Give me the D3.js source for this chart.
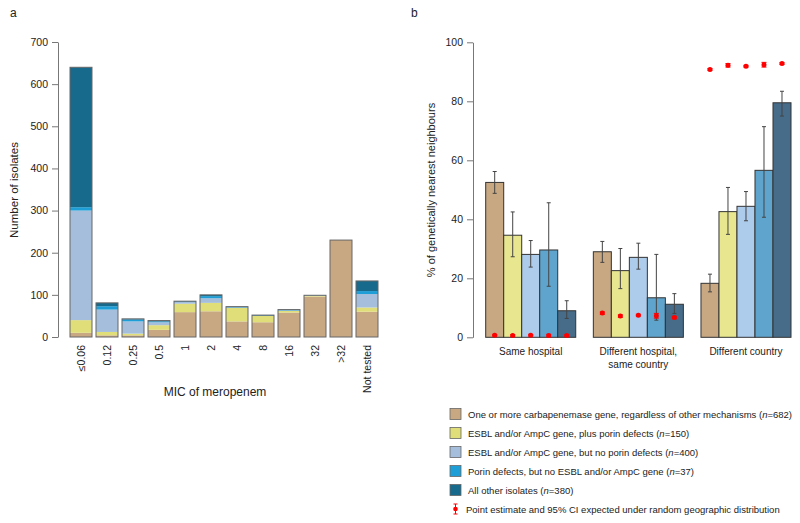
<!DOCTYPE html>
<html>
<head>
<meta charset="utf-8">
<script src="https://cdn.jsdelivr.net/npm/d3@7"></script>
<style>
  body { margin: 0; background: #fff; }
  svg text { font-family: "Liberation Sans", Arial, sans-serif; fill: #222; }
</style>
</head>
<body>
<div id="chart"></div>
<script>
// Panel a: MIC of meropenem, stacked counts per mechanism group
const micCats = ['≤0.06', '0.12', '0.25', '0.5', '1', '2', '4', '8', '16', '32', '>32', 'Not tested']
const carbapenemase = [10, 4, 4, 17, 59, 61, 37, 35, 58, 96, 230, 60]
const esblPorin = [30, 8, 4, 11, 20, 20, 32, 15, 4, 2, 0, 10]
const esblNoPorin = [260, 53, 29, 7, 4, 11, 1, 0, 1, 0, 0, 32]
const porinOnly = [8, 8, 5, 2, 1, 5, 1, 1, 1, 1, 0, 7]
const otherIsolates = [332, 8, 1, 2, 1, 3, 1, 1, 1, 0, 0, 24]
const countTicks = [0, 100, 200, 300, 400, 500, 600, 700]

// Panel b: % of genetically nearest neighbours, rows = mechanism group, cols = location
const locations = [['Same hospital'], ['Different hospital,', 'same country'], ['Different country']]
const nnPct = [
  [52.5, 29.0, 18.3],
  [34.6, 22.6, 42.6],
  [28.1, 27.1, 44.4],
  [29.6, 13.4, 56.6],
  [9.0, 11.2, 79.5],
]
const nnLow = [
  [48.8, 25.4, 15.4],
  [27.3, 16.5, 34.9],
  [23.8, 23.1, 39.5],
  [17.3, 5.8, 40.7],
  [6.4, 8.1, 75.0],
]
const nnHigh = [
  [56.2, 32.5, 21.4],
  [42.5, 30.1, 50.8],
  [32.8, 31.9, 49.4],
  [45.6, 28.1, 71.4],
  [12.4, 14.8, 83.4],
]
const expPct = [
  [0.7, 8.2, 90.8],
  [0.6, 7.2, 92.2],
  [0.7, 7.5, 91.9],
  [0.6, 7.3, 92.4],
  [0.6, 6.7, 92.8],
]
const expLow = [
  [0.4, 7.8, 90.5],
  [0.3, 6.8, 91.6],
  [0.4, 7.2, 91.6],
  [0.2, 6.5, 91.6],
  [0.3, 6.3, 92.5],
]
const expHigh = [
  [1.0, 8.6, 91.1],
  [0.9, 7.6, 92.8],
  [1.0, 7.8, 92.2],
  [1.0, 8.1, 93.2],
  [0.9, 7.1, 93.1],
]
const pctTicks = [0, 20, 40, 60, 80, 100]

const groupNames = [
  ['One or more carbapenemase gene, regardless of other mechanisms (', '=682)'],
  ['ESBL and/or AmpC gene, plus porin defects (', '=150)'],
  ['ESBL and/or AmpC gene, but no porin defects (', '=400)'],
  ['Porin defects, but no ESBL and/or AmpC gene (', '=37)'],
  ['All other isolates (', '=380)'],
]
const colorsA = ['#c8a882', '#e0de78', '#a4bedb', '#1e9ed6', '#176a8c']
const colorsB = ['#c8a882', '#e8e68e', '#adcbea', '#5fa4cd', '#466c8a']

const svg = d3.select('#chart').append('svg')
  .attr('width', 800)
  .attr('height', 523)

// ---------- panel a ----------
svg.append('text').attr('x', 10).attr('y', 17).style('font-size', '12px').text('a')

const xA = d3.scaleBand().domain(micCats).range([68, 380]).paddingInner(0.154).paddingOuter(0.077)
const yA = d3.scaleLinear().domain([0, 700]).range([337, 42])

const tableA = micCats.map((c, i) => ({
  cat: c, s0: carbapenemase[i], s1: esblPorin[i], s2: esblNoPorin[i], s3: porinOnly[i], s4: otherIsolates[i],
}))
const stackA = d3.stack().keys(['s0', 's1', 's2', 's3', 's4'])(tableA)

const gA = svg.append('g')
stackA.forEach((layer, k) => {
  gA.selectAll('rect.l' + k)
    .data(layer)
    .enter()
    .append('rect')
      .attr('x', (d) => xA(d.data.cat))
      .attr('width', xA.bandwidth())
      .attr('y', (d) => yA(d[1]))
      .attr('height', (d) => yA(d[0]) - yA(d[1]))
      .attr('fill', colorsA[k])
})
// outline of each whole bar
gA.selectAll('rect.outline')
  .data(tableA)
  .enter()
  .append('rect')
    .attr('x', (d) => xA(d.cat))
    .attr('width', xA.bandwidth())
    .attr('y', (d) => yA(d.s0 + d.s1 + d.s2 + d.s3 + d.s4))
    .attr('height', (d) => yA(0) - yA(d.s0 + d.s1 + d.s2 + d.s3 + d.s4))
    .attr('fill', 'none')
    .attr('stroke', '#666')
    .attr('stroke-width', 1)

const axA = svg.append('g')
  .attr('transform', 'translate(58,0)')
  .call(d3.axisLeft(yA).tickValues(countTicks).tickSize(6).tickSizeOuter(0).tickPadding(4))
axA.selectAll('path, line').attr('stroke', '#777')
axA.selectAll('text').style('font-size', '10.5px').attr('fill', '#222')

svg.append('g').selectAll('text')
  .data(micCats)
  .enter()
  .append('text')
    .attr('transform', (d) => `translate(${xA(d) + xA.bandwidth() / 2 + 3.5},345) rotate(-90)`)
    .attr('text-anchor', 'end')
    .style('font-size', '10.5px')
    .text((d) => d)

svg.append('text')
  .attr('x', 215).attr('y', 396)
  .attr('text-anchor', 'middle')
  .style('font-size', '12px')
  .text('MIC of meropenem')

svg.append('text')
  .attr('transform', 'translate(18,190) rotate(-90)')
  .attr('text-anchor', 'middle')
  .style('font-size', '11.5px')
  .text('Number of isolates')

// ---------- panel b ----------
svg.append('text').attr('x', 411).attr('y', 17).style('font-size', '12px').text('b')

const locIdx = d3.range(locations.length)
const serIdx = d3.range(nnPct.length)
const xB = d3.scaleBand().domain(locIdx).range([485.7, 791]).paddingInner(0.1636).paddingOuter(0)
const xBar = d3.scaleBand().domain(serIdx).range([0, xB.bandwidth()]).padding(0)
const yB = d3.scaleLinear().domain([0, 100]).range([337.3, 42.3])

const cellsB = []
serIdx.forEach((s) => locIdx.forEach((l) => {
  cellsB.push({
    s: s, l: l,
    v: nnPct[s][l], lo: nnLow[s][l], hi: nnHigh[s][l],
    e: expPct[s][l], elo: expLow[s][l], ehi: expHigh[s][l],
  })
}))
const cx = (d) => xB(d.l) + xBar(d.s) + xBar.bandwidth() / 2

const gB = svg.append('g')
gB.selectAll('rect.bar')
  .data(cellsB)
  .enter()
  .append('rect')
    .attr('x', (d) => xB(d.l) + xBar(d.s))
    .attr('width', xBar.bandwidth())
    .attr('y', (d) => yB(d.v))
    .attr('height', (d) => yB(0) - yB(d.v))
    .attr('fill', (d) => colorsB[d.s])
    .attr('stroke', '#333')
    .attr('stroke-width', 1)

// CI of observed
const ci = gB.selectAll('g.ci').data(cellsB).enter().append('g').attr('stroke', '#444').attr('stroke-width', 1)
ci.append('line').attr('x1', cx).attr('x2', cx).attr('y1', (d) => yB(d.lo)).attr('y2', (d) => yB(d.hi))
ci.append('line').attr('x1', (d) => cx(d) - 2).attr('x2', (d) => cx(d) + 2).attr('y1', (d) => yB(d.lo)).attr('y2', (d) => yB(d.lo))
ci.append('line').attr('x1', (d) => cx(d) - 2).attr('x2', (d) => cx(d) + 2).attr('y1', (d) => yB(d.hi)).attr('y2', (d) => yB(d.hi))

// expected under random geographic distribution
const ex = gB.selectAll('g.ex').data(cellsB).enter().append('g').attr('stroke', '#ff0000').attr('stroke-width', 1)
ex.append('line').attr('x1', cx).attr('x2', cx).attr('y1', (d) => yB(d.elo)).attr('y2', (d) => yB(d.ehi))
ex.append('line').attr('x1', (d) => cx(d) - 2.5).attr('x2', (d) => cx(d) + 2.5).attr('y1', (d) => yB(d.elo)).attr('y2', (d) => yB(d.elo))
ex.append('line').attr('x1', (d) => cx(d) - 2.5).attr('x2', (d) => cx(d) + 2.5).attr('y1', (d) => yB(d.ehi)).attr('y2', (d) => yB(d.ehi))
ex.append('circle').attr('cx', cx).attr('cy', (d) => yB(d.e)).attr('r', 2.5).attr('fill', '#ff0000').attr('stroke', 'none')

const axB = svg.append('g')
  .attr('transform', 'translate(473,0)')
  .call(d3.axisLeft(yB).tickValues(pctTicks).tickSize(6).tickSizeOuter(0).tickPadding(4))
axB.selectAll('path, line').attr('stroke', '#777')
axB.selectAll('text').style('font-size', '10.5px').attr('fill', '#222')

const locLabels = svg.append('g').selectAll('text')
  .data(locIdx)
  .enter()
  .append('text')
    .attr('x', (d) => xB(d) + xB.bandwidth() / 2)
    .attr('y', 355)
    .attr('text-anchor', 'middle')
    .style('font-size', '10px')
locLabels.selectAll('tspan')
  .data((d) => locations[d])
  .enter()
  .append('tspan')
    .attr('x', function () { return d3.select(this.parentNode).attr('x') })
    .attr('dy', (d, i) => i === 0 ? 0 : 13)
    .text((d) => d)

svg.append('text')
  .attr('transform', 'translate(435,190) rotate(-90)')
  .attr('text-anchor', 'middle')
  .style('font-size', '11px')
  .text('% of genetically nearest neighbours')

// ---------- legend ----------
const legend = svg.append('g')
const rowY = (i) => 414 + i * 19
legend.selectAll('rect')
  .data(groupNames)
  .enter()
  .append('rect')
    .attr('x', 450)
    .attr('y', (d, i) => rowY(i) - 5.5)
    .attr('width', 11)
    .attr('height', 11)
    .attr('fill', (d, i) => colorsA[i])
    .attr('stroke', '#666')
    .attr('stroke-width', 0.8)
const legText = legend.selectAll('text')
  .data(groupNames)
  .enter()
  .append('text')
    .attr('x', 468)
    .attr('y', (d, i) => rowY(i) + 3.5)
    .style('font-size', '9.5px')
legText.append('tspan').text((d) => d[0])
legText.append('tspan').style('font-style', 'italic').text('n')
legText.append('tspan').text((d) => d[1])

const ly = rowY(5)
const lk = legend.append('g').attr('stroke', '#ff0000').attr('stroke-width', 1)
lk.append('line').attr('x1', 455.5).attr('x2', 455.5).attr('y1', ly - 5).attr('y2', ly + 5)
lk.append('line').attr('x1', 453.5).attr('x2', 457.5).attr('y1', ly - 5).attr('y2', ly - 5)
lk.append('line').attr('x1', 453.5).attr('x2', 457.5).attr('y1', ly + 5).attr('y2', ly + 5)
legend.append('circle').attr('cx', 455.5).attr('cy', ly).attr('r', 2.3).attr('fill', '#ff0000')
legend.append('text')
  .attr('x', 466)
  .attr('y', ly + 3.5)
  .style('font-size', '9.5px')
  .text('Point estimate and 95% CI expected under random geographic distribution')
</script>
</body>
</html>
